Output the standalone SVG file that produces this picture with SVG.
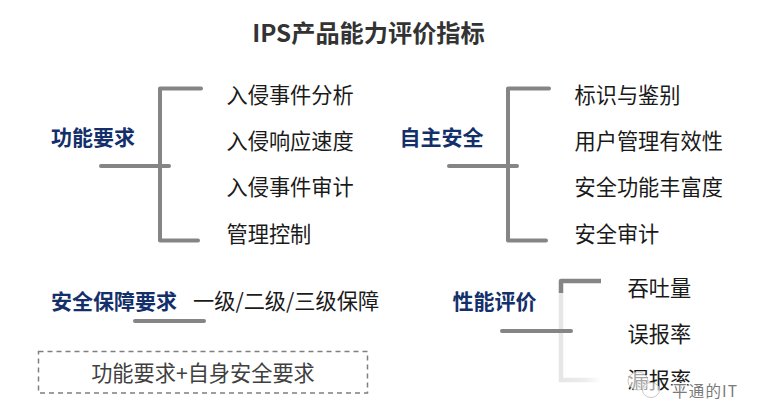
<svg xmlns="http://www.w3.org/2000/svg" width="762" height="420" viewBox="0 0 762 420">
<defs>
<linearGradient id="fade" gradientUnits="userSpaceOnUse" x1="560" y1="0" x2="601" y2="0"><stop offset="0" stop-color="#e6e6e6"/><stop offset="0.6" stop-color="#ececec"/><stop offset="1" stop-color="#fff"/></linearGradient>
</defs>
<style>
text{font-family:"Noto Sans CJK SC","Noto Sans",sans-serif}
.t{font-size:21.2px;fill:#1a1a1a}
.h{font-size:21px;font-weight:700;fill:#14306b}
.l{fill:none;stroke:#858585;stroke-width:4;stroke-linecap:round;stroke-linejoin:round}
.f{fill:none;stroke:#e6e6e6;stroke-width:4.500}
.wm{font-size:15.500px;letter-spacing:1.200px;fill:#7a7a7a;stroke:#fff;stroke-width:2px;paint-order:stroke}
</style>
<rect width="762" height="420" fill="#fff"/>
<text id="title" x="368.500" y="42" text-anchor="middle" font-size="24.200" font-weight="700" fill="#333">IPS产品能力评价指标</text>
<g id="connectors">
<path class="l" d="M201 88.500H160V240.500H198"/>
<path class="l" d="M101 166H169"/>
<path class="l" d="M549 88.500H508V240.500H546"/>
<path class="l" d="M449 166H517"/>
<path class="l" d="M135 321H204"/>
<path class="f" d="M561 293V380H562"/>
<path d="M561 380H601" fill="none" stroke="url(#fade)" stroke-width="4.500"/>
<path class="l" d="M601 281H561V293" style="stroke-width:4.500;stroke-linecap:butt"/>
<path class="l" d="M502 331H571"/>
</g>
<g id="n1"><text class="h" x="51" y="145">功能要求</text></g>
<g id="n1a"><text class="t" x="226.500" y="103">入侵事件分析</text></g>
<g id="n1b"><text class="t" x="226.500" y="149">入侵响应速度</text></g>
<g id="n1c"><text class="t" x="226.500" y="195">入侵事件审计</text></g>
<g id="n1d"><text class="t" x="226.500" y="242">管理控制</text></g>
<g id="n2"><text class="h" x="399.500" y="145">自主安全</text></g>
<g id="n2a"><text class="t" x="574.500" y="103">标识与鉴别</text></g>
<g id="n2b"><text class="t" x="574.500" y="149">用户管理有效性</text></g>
<g id="n2c"><text class="t" x="574.500" y="195">安全功能丰富度</text></g>
<g id="n2d"><text class="t" x="574.500" y="242">安全审计</text></g>
<g id="n3"><text class="h" x="51" y="308.500">安全保障要求</text><text class="t" x="193" y="309">一级/二级/三级保障</text></g>
<g id="n4"><text class="h" x="452.500" y="308.500">性能评价</text></g>
<g id="n4a"><text class="t" x="627.500" y="296">吞吐量</text></g>
<g id="n4b"><text class="t" x="627.500" y="342">误报率</text></g>
<g id="n4c"><text class="t" x="627.500" y="388">漏报率</text></g>
<g id="note"><rect x="38.500" y="351.500" width="329" height="41.500" fill="none" stroke="#7f7f7f" stroke-width="1.500" stroke-dasharray="5 4"/><text x="203" y="381" text-anchor="middle" font-size="21.200" fill="#404040">功能要求+自身安全要求</text></g>
<g id="watermark">
<ellipse cx="638" cy="381" rx="10" ry="9" fill="#fff" fill-opacity=".6" stroke="#bbb" stroke-width=".8"/>
<ellipse cx="651" cy="390" rx="8.500" ry="7.500" fill="#fff" fill-opacity=".6" stroke="#bbb" stroke-width=".8"/>
<text class="wm" x="672" y="397">平通的IT</text>
</g>
</svg>
